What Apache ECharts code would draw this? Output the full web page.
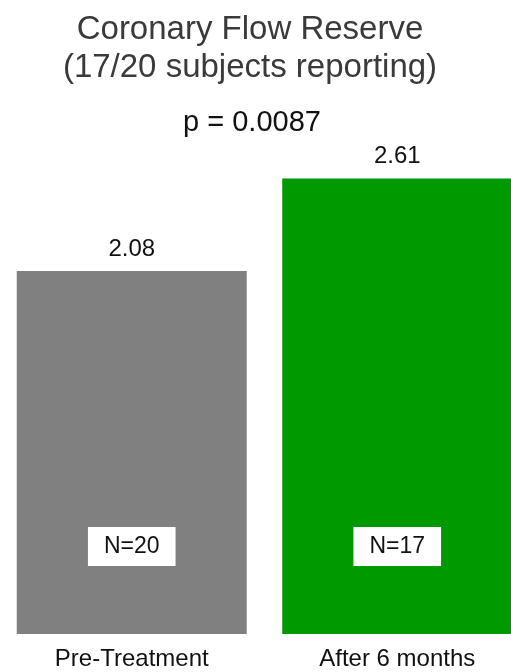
<!DOCTYPE html>
<html>
<head>
<meta charset="utf-8">
<script src="https://cdn.jsdelivr.net/npm/echarts@6/dist/echarts.min.js"></script>
<style>
  html, body { margin: 0; padding: 0; background: #ffffff; }
  #chart { width: 511px; height: 672px; }
</style>
</head>
<body>
<div id="chart"></div>
<script>
// Coronary flow reserve before and after treatment
const categories = ['Pre-Treatment', 'After 6 months'];
const meanCFR = [2.08, 2.61];
const sampleSizes = [20, 17];
const barColors = ['#808080', '#009900'];
const titleLines = ['Coronary Flow Reserve', '(17/20 subjects reporting)'];
const pValueText = 'p = 0.0087';

const FONT = '"Liberation Sans", Arial, Helvetica, sans-serif';

const chart = echarts.init(document.getElementById('chart'), null, { renderer: 'canvas' });

const barData = meanCFR.map((v, i) => ({ value: v, itemStyle: { color: barColors[i] } }));

chart.setOption({
  animation: false,
  backgroundColor: '#ffffff',
  title: [
    {
      text: titleLines.join('\n'),
      left: 245,
      top: 6,
      textAlign: 'center',
      textStyle: { fontFamily: FONT, fontSize: 33, fontWeight: 'normal', color: '#3a3a3a', lineHeight: 38 }
    },
    {
      text: pValueText,
      left: 247,
      top: 103,
      textAlign: 'center',
      textStyle: { fontFamily: FONT, fontSize: 29, fontWeight: 'normal', color: '#111111' }
    }
  ],
  grid: { left: -1, width: 531, top: 110.5, bottom: 38, containLabel: false, outerBoundsMode: 'none' },
  xAxis: {
    type: 'category',
    data: categories,
    axisLine: { show: false },
    axisTick: { show: false },
    axisLabel: { fontFamily: FONT, fontSize: 24, color: '#111111', margin: 13 }
  },
  yAxis: {
    type: 'value',
    min: 0,
    max: 3,
    show: false,
    splitLine: { show: false }
  },
  series: [
    {
      type: 'bar',
      data: barData,
      barWidth: 230,
      label: {
        show: true,
        position: 'top',
        distance: 10,
        fontFamily: FONT,
        fontSize: 24,
        color: '#111111',
        formatter: p => p.value.toFixed(2)
      }
    },
    {
      type: 'bar',
      data: meanCFR,
      barWidth: 230,
      barGap: '-100%',
      silent: true,
      itemStyle: { color: 'rgba(0,0,0,0)' },
      label: {
        show: true,
        position: 'insideBottom',
        distance: 68,
        fontFamily: FONT,
        fontSize: 23,
        lineHeight: 23,
        color: '#111111',
        backgroundColor: '#ffffff',
        padding: [8, 16],
        formatter: p => 'N=' + sampleSizes[p.dataIndex]
      }
    }
  ]
});
</script>
</body>
</html>
